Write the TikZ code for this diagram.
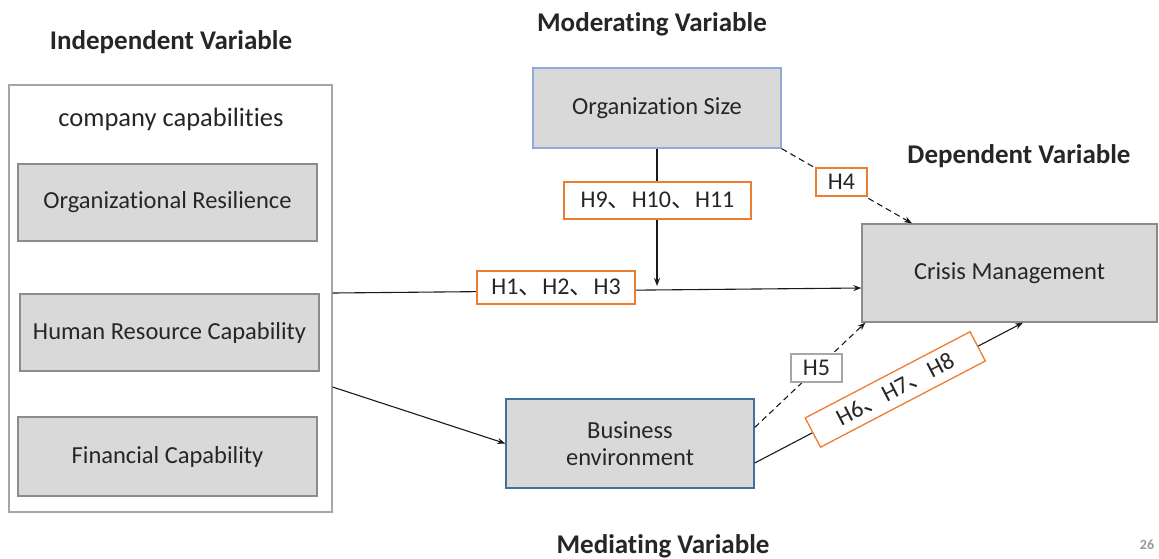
\documentclass[tikz,border=0pt]{standalone}
\usepackage{fontspec}
\setmainfont{Carlito}[Ligatures={NoCommon,NoRequired,NoContextual}]
\newfontfamily\cjk{Noto Sans CJK SC}
\usetikzlibrary{arrows.meta}
\newcommand{\jcomma}{{\cjk 、}}
\definecolor{txt}{HTML}{262626}
\definecolor{boxgray}{HTML}{D9D9D9}
\definecolor{edgegray}{HTML}{8C8C8C}
\definecolor{outergray}{HTML}{A6A6A6}
\definecolor{orgblue}{HTML}{8FAADC}
\definecolor{busblue}{HTML}{41719C}
\definecolor{hor}{HTML}{ED7D31}
\definecolor{linec}{HTML}{1A1A1A}
\begin{document}
\begin{tikzpicture}[x=1pt,y=-1pt,
  title/.style={font=\fontsize{27}{30}\selectfont\bfseries, text=txt, inner sep=0pt},
  box/.style={draw=edgegray, fill=boxgray, line width=1.3pt, inner sep=0pt, align=center,
    font=\fontsize{24.5}{29}\selectfont, text=txt},
  hlab/.style={draw=hor, fill=white, line width=1.3pt, inner sep=0pt,
    font=\fontsize{24}{28}\selectfont, text=txt},
  arr/.style={-{Stealth[length=8pt,width=6pt]}, line width=1.1pt, draw=linec},
  darr/.style={arr, dash pattern=on 6pt off 4pt}]
\useasboundingbox (0,0) rectangle (1159,558);
% titles
\node[title] (tind) at (171,42) {Independent Variable};
\node[title] (tmod) at (652,24) {Moderating Variable};
\node[title] (tdep) at (1019,156) {Dependent Variable};
\node[title] (tmed) at (663,546) {Mediating Variable};
% left group
\node[draw=outergray, fill=white, line width=1.3pt, minimum width=323pt, minimum height=427pt, inner sep=0pt] (outer) at (170.5,298.5) {};
\node[font=\fontsize{26.5}{30}\selectfont, text=txt, inner sep=0pt] (cap) at (171,119) {company capabilities};
\node[box, minimum width=299pt, minimum height=77pt] (res) at (167.5,202.5) {Organizational Resilience};
\node[box, minimum width=299pt, minimum height=77pt] (hr) at (169.5,332.5) {Human Resource Capability};
\node[box, minimum width=299pt, minimum height=79pt] (fin) at (167.5,456.5) {Financial Capability};
% other boxes
\node[box, draw=orgblue, minimum width=248pt, minimum height=80pt] (org) at (657,108) {Organization Size};
\node[box, minimum width=295pt, minimum height=98pt] (crisis) at (1009.5,273) {Crisis Management};
\node[box, draw=busblue, minimum width=248pt, minimum height=89pt] (bus) at (630,443.5) {Business\\[-2pt]environment};
% connectors
\coordinate (mid) at (657,286);
\draw[arr] ([yshift=5.5pt]outer.east) -- ([yshift=-15pt]crisis.west);
\draw[arr] (org.south) -- (mid);
\draw[darr] (org.south east) -- ([xshift=-97.5pt]crisis.north);
\draw[arr] ([yshift=-88.5pt]outer.east) -- (bus.west);
\draw[darr] ([yshift=16pt]bus.east) -- ([xshift=4pt]crisis.south west);
\draw[arr] ([yshift=-19.5pt]bus.east) -- node[hlab, sloped, pos=0.524, minimum width=186pt, minimum height=33pt] (h6) {H6\jcomma H7\jcomma H8} ([xshift=13.5pt]crisis.south);
% labels
\node[hlab, minimum width=187pt, minimum height=37pt] (h9) at (657.5,200.5) {H9\jcomma H10\jcomma H11};
\node[hlab, minimum width=158pt, minimum height=33pt] (h1) at (556,287.5) {H1\jcomma H2\jcomma H3};
\node[hlab, minimum width=51pt, minimum height=28pt] (h4) at (841.5,182) {H4};
\node[hlab, draw=outergray, minimum width=51pt, minimum height=28pt] (h5) at (816.5,368) {H5};
\node[font=\fontsize{14}{16}\selectfont\bfseries, text=black!40, inner sep=0pt] (pg) at (1147,545) {26};
\end{tikzpicture}
\end{document}
